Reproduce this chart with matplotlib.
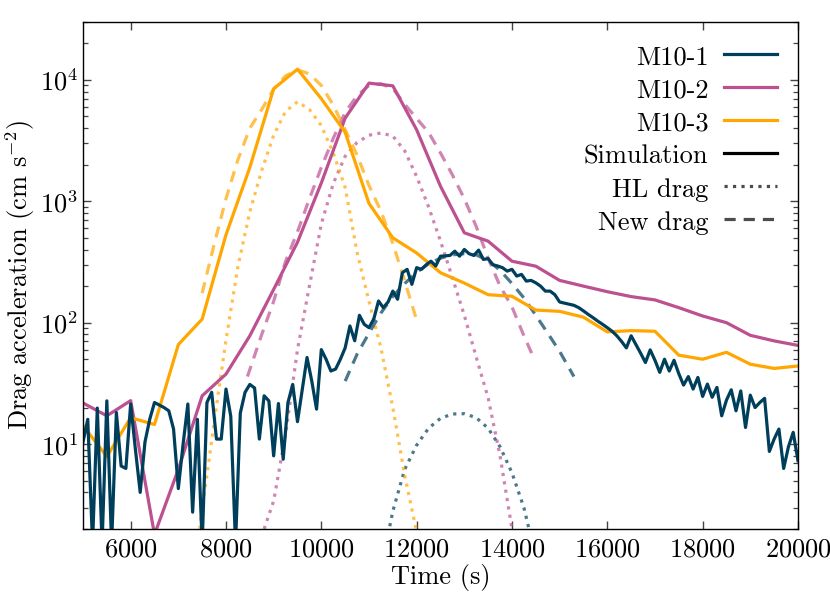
import matplotlib
matplotlib.use("Agg")
import matplotlib.pyplot as plt
from matplotlib.lines import Line2D
from matplotlib.ticker import LogLocator, NullFormatter

plt.rcParams["font.family"] = "serif"
plt.rcParams["font.serif"] = ["cmr10"]
plt.rcParams["mathtext.fontset"] = "cm"
plt.rcParams["axes.formatter.use_mathtext"] = True
plt.rcParams["font.size"] = 19

# colours
c1 = "#003f5c"
c2 = "#bc5090"
c3 = "#ffa600"

# ---- simulation data ----
# M10-1 (noisy, ~100 s sampling)
t1 = [5000, 5100, 5200, 5300, 5400, 5500, 5600, 5700, 5800, 5900,
      6000, 6100, 6200, 6300, 6400, 6500, 6600, 6700, 6800, 6900,
      7000, 7100, 7200, 7300, 7400, 7500, 7600, 7700, 7800, 7900,
      8000, 8100, 8200, 8300, 8400, 8500, 8600, 8700, 8800, 8900,
      9000, 9100, 9200, 9300, 9400, 9500, 9600, 9700, 9800, 9900,
      10000, 10100, 10200, 10300, 10400, 10500, 10600, 10700, 10800, 10900,
      11000, 11100, 11200, 11300, 11400, 11500, 11600, 11700, 11800, 11900,
      12000, 12100, 12200, 12300, 12400, 12500, 12600, 12700, 12800, 12900,
      13000, 13100, 13200, 13300, 13400, 13500, 13600, 13700, 13800, 13900,
      14000, 14100, 14200, 14300, 14400, 14500, 14600, 14700, 14800, 14900,
      15000, 15100, 15200, 15300, 15400, 15500, 15600, 15700, 15800, 15900,
      16000, 16100, 16200, 16300, 16400, 16500, 16600, 16700, 16800, 16900,
      17000, 17100, 17200, 17300, 17400, 17500, 17600, 17700, 17800, 17900,
      18000, 18100, 18200, 18300, 18400, 18500, 18600, 18700, 18800, 18900,
      19000, 19100, 19200, 19300, 19400, 19500, 19600, 19700, 19800, 19900,
      20000]
a1 = [10.4, 16, 1.5, 19.8, 1.5, 22.7, 1.5, 18.2, 6.6, 6.3,
      21.4, 9, 4.0, 10.4, 16, 22, 21, 20, 18.8, 13.3,
      4.3, 10, 21.4, 2.75, 16, 1.5, 22, 26.7, 11, 11,
      28.4, 17, 1.5, 18, 26.7, 31, 29, 11, 25, 22.7,
      8.0, 21.6, 7.5, 22, 31, 15.3, 28, 51.7, 33, 19.4,
      60, 50, 40, 41.5, 50, 62, 94, 71, 115, 97,
      91, 107, 151, 133, 148, 182, 156, 258, 275, 207,
      284, 275, 300, 321, 293, 353, 355, 358, 388, 353,
      401, 370, 358, 396, 332, 337, 300, 293, 284, 266,
      275, 242, 250, 220, 223, 213, 200, 182, 182, 170,
      148, 145, 142, 139, 133, 125, 117, 110, 103, 97,
      91, 85, 78, 70, 62, 78, 66, 56, 47, 59.7,
      49, 39, 50, 40, 49, 38, 30.6, 36, 28.4, 35.4,
      24.7, 31.2, 24.3, 29.3, 17.1, 23, 28, 18.8, 27.4, 13.7,
      25.3, 20, 22, 23.8, 8.7, 11, 13.3, 6.3, 9.5, 12.5,
      7.3]

# M10-2 and M10-3 (500 s sampling)
t23 = [5000, 5500, 6000, 6500, 7000, 7500, 8000, 8500, 9000, 9500,
       10000, 10500, 11000, 11500, 12000, 12500, 13000, 13500, 14000, 14500,
       15000, 15500, 16000, 16500, 17000, 17500, 18000, 18500, 19000, 19500,
       20000]
a2 = [21.8, 17.1, 22.8, 1.8, 6.2, 25, 37.7, 78, 188, 460,
      1415, 4840, 9400, 8930, 3880, 1330, 550, 469, 321, 292,
      223, 200, 180, 164, 154, 133, 113.6, 100, 78.7, 70.8,
      65]
a3 = [14.2, 7.9, 16.5, 14.5, 66, 107, 530, 1900, 8450, 12250,
      7000, 3700, 960, 500, 375, 258, 212, 170, 165, 127,
      124, 111, 84, 86, 85, 54, 50, 57, 45.5, 42,
      44]

# ---- new drag model ----
tn1 = [10500, 10750, 11000, 11250, 11500, 11750, 12000, 12250, 12500, 12750,
       13000, 13250, 13500, 13750, 14000, 14250, 14500, 14750, 15000, 15300]
n1 = [33, 55, 82, 120, 165, 210, 260, 305, 340, 362,
      370, 362, 325, 270, 210, 160, 115, 82, 58, 36]
tn2 = [8450, 8750, 9000, 9250, 9500, 9750, 10000, 10250, 10500, 10750,
       11000, 11250, 11500, 11750, 12000, 12250, 12500, 12750, 13000, 13250,
       13500, 13750, 14000, 14250, 14450]
n2 = [36, 80, 150, 320, 560, 1050, 1900, 3300, 5400, 7400,
      9000, 9300, 8500, 6300, 4800, 3700, 2500, 1650, 1050, 620,
      340, 200, 135, 78, 52]
tn3 = [7500, 7750, 8000, 8250, 8500, 8750, 9000, 9250, 9500, 9750,
       10000, 10250, 10500, 10750, 11000, 11250, 11500, 11750, 12000]
n3 = [175, 440, 1050, 2200, 4000, 5700, 8400, 10800, 12100, 11200,
      9000, 6200, 3900, 2400, 1350, 830, 450, 220, 105]

# ---- HL drag ----
th1 = [11400, 11500, 11750, 12000, 12250, 12500, 12750, 13000, 13250, 13500,
       13750, 14000, 14250, 14400]
h1 = [1.8, 2.8, 6.2, 9.8, 13.5, 16.3, 17.7, 17.8, 16.5, 13.5,
      9.5, 5.8, 3.0, 1.7]
th2 = [8800, 9000, 9250, 9500, 9750, 10000, 10250, 10500, 10750, 11000,
       11250, 11500, 11750, 12000, 12250, 12500, 12750, 13000, 13250, 13500,
       13750, 14000]
h2 = [2, 3.4, 12, 60, 200, 650, 1400, 2350, 3050, 3500,
      3650, 3450, 2600, 1600, 900, 470, 235, 115, 52, 24,
      8, 2]
th3 = [7450, 7500, 7600, 7750, 8000, 8250, 8500, 8750, 9000, 9250,
       9500, 9750, 10000, 10250, 10500, 10750, 11000, 11250, 11500, 11750,
       12000]
h3 = [2, 3, 5.5, 15, 72, 290, 820, 1800, 3500, 5500,
      6600, 5700, 4200, 2500, 1300, 380, 150, 62, 20, 5.5,
      1.9]

fig = plt.figure(figsize=(8.3, 5.93), dpi=100)
ax = fig.add_axes([0.1, 0.108, 0.8614, 0.855])

lw = 2.3
dash = (0, (3.5, 2.5))
ax.plot(th1, h1, ls=":", color=c1, alpha=0.7, lw=lw)
ax.plot(th2, h2, ls=":", color=c2, alpha=0.7, lw=lw)
ax.plot(th3, h3, ls=":", color=c3, alpha=0.7, lw=lw)
ax.plot(tn1, n1, ls=dash, color=c1, alpha=0.7, lw=lw)
ax.plot(tn2, n2, ls=dash, color=c2, alpha=0.7, lw=lw)
ax.plot(tn3, n3, ls=dash, color=c3, alpha=0.7, lw=lw)
ax.plot(t23, a2, color=c2, lw=lw)
ax.plot(t23, a3, color=c3, lw=lw)
ax.plot(t1, a1, color=c1, lw=lw)

ax.set_yscale("log")
ax.set_xlim(5000, 20000)
ax.set_ylim(2, 3e4)
ax.set_xticks([6000, 8000, 10000, 12000, 14000, 16000, 18000, 20000])
ax.yaxis.set_minor_locator(LogLocator(base=10, subs=range(2, 10)))
ax.yaxis.set_minor_formatter(NullFormatter())
ax.tick_params(which="both", direction="in", top=True, right=True)
ax.tick_params(which="major", length=6, width=1.0, color="#444444")
ax.tick_params(which="minor", length=3.5, width=0.9, color="#444444")
ax.tick_params(axis="x", pad=6)
for s in ax.spines.values():
    s.set_linewidth(1.0)

ax.set_xlabel("Time (s)", labelpad=2)
ax.set_ylabel("Drag acceleration (cm s$^{-2}$)", labelpad=2)

handles = [
    Line2D([], [], color=c1, lw=lw),
    Line2D([], [], color=c2, lw=lw),
    Line2D([], [], color=c3, lw=lw),
    Line2D([], [], color="k", lw=lw),
    Line2D([], [], color="k", alpha=0.7, lw=lw, ls=":"),
    Line2D([], [], color="k", alpha=0.7, lw=lw, ls=dash),
]
labels = ["M10-1", "M10-2", "M10-3", "Simulation", "HL drag", "New drag"]
ax.legend(handles, labels, loc="upper right", frameon=False, markerfirst=False,
          handlelength=2.0, handleheight=1.05, handletextpad=0.6,
          labelspacing=0.26, borderaxespad=0.4, fontsize=19)

fig.savefig("out.png", dpi=100)
